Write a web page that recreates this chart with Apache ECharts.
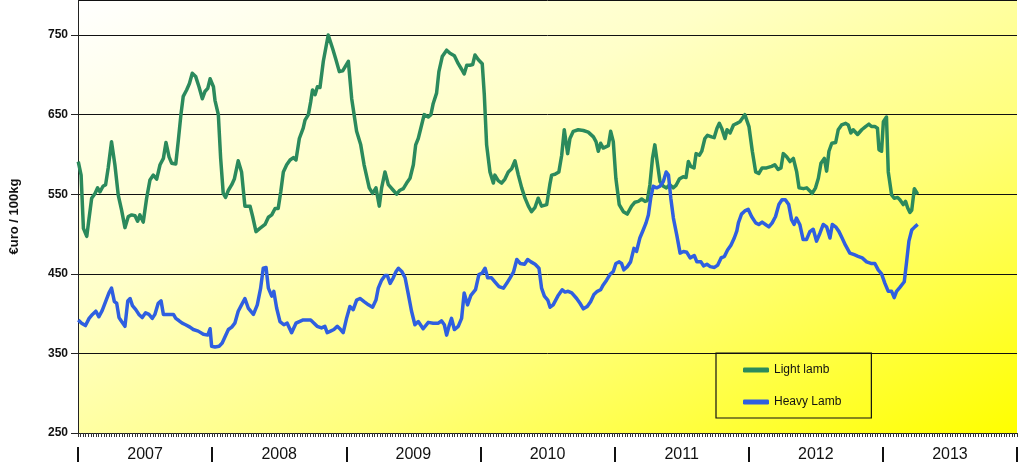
<!DOCTYPE html>
<html>
<head>
<meta charset="utf-8">
<script src="https://cdn.jsdelivr.net/npm/echarts@6/dist/echarts.min.js"></script>
<style>
html,body{margin:0;padding:0;background:#fff;}
#chart{width:1023px;height:471px;}
</style>
</head>
<body>
<div id="chart"></div>
<script>
// x positions are in weeks since start of 2007
var years = ['2007','2008','2009','2010','2011','2012','2013'];
var yTicks = [250,350,450,550,650,750];

var lightWeek = [0.1,1.2,2.1,3.4,4.3,5.3,6.6,7.6,8.5,9.7,10.7,11.7,13.0,14.3,15.6,16.9,18.2,19.5,20.8,22.1,23.1,24.0,25.3,26.6,27.9,29.2,30.5,31.8,33.1,34.1,35.3,36.3,37.9,38.9,39.9,40.8,42.1,43.2,44.3,45.6,46.9,48.2,49.2,50.3,51.2,52.5,53.1,54.4,55.3,56.3,57.2,58.3,59.6,60.6,62.1,63.4,64.7,
66.7,67.7,69.0,70.5,72.5,73.8,75.1,76.4,77.6,78.6,79.6,80.9,82.2,83.5,84.5,85.8,87.3,88.0,89.3,90.2,90.9,91.9,92.8,93.8,95.1,97.0,98.7,100.0,101.3,102.6,104.8,106.1,108.0,109.6,110.9,112.9,114.2,115.5,116.8,117.7,119.0,120.3,122.2,123.5,124.8,126.1,127.4,
128.7,130.0,130.9,131.9,133.2,134.2,135.8,136.8,137.7,139.0,139.9,141.2,142.9,144.2,145.9,147.4,148.7,149.7,150.7,151.9,153.0,153.9,155.2,156.7,157.5,158.4,159.7,161.0,161.6,162.9,164.2,165.5,166.8,168.1,169.4,170.7,172.0,173.3,174.6,175.8,177.1,178.4,179.7,181.7,182.9,183.6,184.9,186.4,187.5,188.5,189.8,190.7,
192.0,193.9,195.9,197.8,199.8,200.8,201.7,202.6,203.6,205.6,206.5,207.5,208.5,209.8,211.4,212.9,214.6,215.9,217.2,218.5,219.8,220.7,221.7,222.7,223.6,224.5,225.6,226.9,228.1,229.4,230.7,231.8,233.1,234.6,235.7,236.6,237.5,238.8,239.6,240.9,241.8,243.0,244.0,245.6,246.6,247.7,248.6,249.5,250.8,251.6,252.8,254.1,255.4,
256.6,258.5,260.1,261.4,262.7,263.9,265.2,266.9,268.9,270.1,271.4,272.5,273.4,274.7,276.0,277.3,278.6,279.5,281.2,282.5,283.7,284.6,285.9,287.0,288.0,289.3,290.2,291.1,292.2,293.7,294.7,296.0,297.6,298.6,299.6,300.5,302.2,303.8,305.3,306.6,307.6,308.9,309.9,310.5,311.5,312.2,313.4,314.1,315.4,316.4,317.7,318.6,319.9,320.8,321.6,322.5,323.2,324.2,325.5];
var lightValue = [591,574,507,497,520,545,551,558,553,560,562,583,616,587,549,530,508,522,524,523,516,524,515,545,568,574,569,587,595,615,597,589,588,618,650,673,681,689,702,698,685,670,679,683,695,685,668,650,595,551,546,555,562,569,592,578,535,
535,522,503,507,512,521,524,532,532,553,578,587,593,596,593,620,633,643,650,666,681,675,685,684,717,750,733,719,704,705,717,670,629,612,587,558,551,558,535,558,578,562,555,550,555,557,564,
570,587,612,620,637,650,647,650,664,677,704,723,731,727,724,714,707,701,712,712,713,725,719,714,675,612,578,564,574,567,564,569,578,582,592,574,558,545,535,528,533,545,535,537,562,574,575,578,599,631,601,620,
629,631,630,628,622,616,604,614,608,611,629,616,570,537,528,525,535,540,541,544,541,542,562,595,612,591,566,560,558,562,558,561,569,572,571,591,585,583,601,599,604,620,624,622,621,633,639,633,620,631,627,637,639,
641,650,635,604,578,576,583,583,585,587,581,583,601,597,591,595,578,558,557,558,554,551,558,570,589,595,579,604,614,615,631,637,639,637,627,631,625,631,635,638,635,635,633,606,604,641,647,578,549,545,546,543,537,541,533,527,530,557,550];

var heavyWeek = [0.1,1.4,2.9,4.3,5.6,6.9,8.1,9.4,10.7,12.0,13.0,14.1,15.0,15.9,16.9,18.2,19.3,20.2,21.1,22.4,23.6,24.9,26.2,27.5,28.8,29.8,31.1,32.2,33.1,34.4,35.7,37.0,37.9,39.2,40.4,41.7,43.4,44.7,46.6,48.6,50.3,51.2,51.8,53.1,54.7,55.9,57.0,58.3,59.6,60.8,62.1,63.4,64.7,
66.0,68.0,69.5,70.8,71.8,72.9,73.8,75.1,75.9,77.0,78.3,79.8,81.1,82.8,84.5,85.8,87.3,88.6,90.2,91.5,92.7,94.4,95.7,96.6,97.9,99.2,100.5,101.8,102.8,104.1,105.4,106.7,108.0,109.3,110.9,112.6,114.2,115.5,116.4,117.7,119.0,119.9,121.0,122.2,123.3,124.2,125.5,126.8,
128.0,129.3,130.6,131.9,133.8,135.8,137.7,139.7,140.9,142.0,142.9,143.8,144.8,145.9,147.4,148.7,149.7,151.0,152.3,154.1,155.4,156.7,157.8,158.8,160.3,161.6,163.2,164.9,166.2,167.5,168.8,170.1,171.4,173.1,174.3,175.6,177.2,178.7,179.7,180.8,182.1,183.0,184.2,186.0,187.7,188.8,190.0,
191.4,193.3,194.6,195.9,197.4,198.7,200.0,201.3,202.6,203.6,204.9,206.2,207.5,208.5,209.8,210.7,211.6,212.9,214.2,215.5,216.5,217.8,219.1,220.2,221.1,222.0,223.0,224.3,225.6,226.9,228.0,228.9,229.8,230.8,232.1,233.4,234.7,236.0,237.3,238.9,239.9,241.5,242.5,243.8,245.1,246.7,248.0,249.3,250.6,251.8,253.1,254.4,255.4,
256.0,257.2,258.5,259.8,261.1,262.7,263.9,265.2,266.5,267.8,269.1,270.4,271.7,272.9,274.2,275.5,276.6,277.6,278.5,279.8,281.1,282.4,283.7,285.0,286.3,287.6,288.9,290.2,291.5,292.4,293.7,295.0,296.2,297.5,299.2,300.9,302.4,304.0,305.7,307.4,308.9,310.2,311.5,312.8,314.1,315.4,316.4,317.3,318.6,320.3,321.2,322.1,323.2,324.4,325.5];
var heavyValue = [392,388,385,394,399,403,396,404,415,426,432,415,413,395,390,384,416,419,410,405,399,395,401,399,394,399,413,416,399,399,399,399,394,391,388,386,383,380,378,374,373,381,359,358,359,363,371,380,383,388,403,411,419,
407,399,411,432,457,458,432,422,428,407,390,386,388,376,388,390,392,392,392,388,384,382,384,376,378,380,384,380,376,394,409,405,417,419,415,411,408,417,432,442,448,448,438,445,453,457,453,445,
425,403,386,390,381,389,388,388,391,386,373,384,394,380,384,394,426,411,423,430,449,451,457,445,445,440,434,432,438,445,452,468,463,462,468,465,462,457,432,422,417,408,411,422,430,427,428,
426,419,413,406,409,415,424,428,430,436,442,449,453,463,465,463,455,459,465,482,478,495,505,514,524,545,560,558,560,566,578,574,545,520,499,476,478,477,470,473,465,465,460,462,459,458,461,470,472,480,486,495,504,
514,525,529,531,522,514,512,515,512,509,514,522,537,543,543,537,518,512,520,512,493,493,503,506,491,501,512,509,495,512,509,503,495,486,476,474,472,470,465,463,463,455,450,438,428,428,420,428,433,440,465,491,505,509,512];

function pairs(xs, ys){ return xs.map(function(x,i){ return [x, ys[i]]; }); }

var FONT = '"Liberation Sans", Arial, sans-serif';
var chart = echarts.init(document.getElementById('chart'), null, {renderer:'canvas'});
chart.setOption({
  animation: false,
  textStyle: {fontFamily: FONT},
  grid: {
    left: 78, right: 6, top: 0, bottom: 38,
    show: true, borderWidth: 0,
    backgroundColor: {
      type: 'linear', global: true,
      x: 78, y: 0, x2: 414, y2: 714,
      colorStops: [
        {offset: 0, color: '#ffffff'},
        {offset: 0.35, color: '#ffffc8'},
        {offset: 0.65, color: '#ffff7a'},
        {offset: 1, color: '#ffff00'}
      ]
    }
  },
  legend: {
    orient: 'vertical',
    left: 716, top: 353,
    padding: [11, 30, 10, 27],
    itemGap: 20,
    itemWidth: 26, itemHeight: 5,
    icon: 'roundRect',
    borderColor: '#111', borderWidth: 1.2,
    textStyle: {fontSize: 12, color: '#111', fontFamily: FONT},
    data: ['Light lamb', 'Heavy Lamb']
  },
  xAxis: [{
    type: 'value', min: 0, max: 364, interval: 1,
    axisLine: {show: true, lineStyle: {color: '#222', width: 1}},
    axisTick: {show: true, length: 4, lineStyle: {color: '#333', width: 1}},
    axisLabel: {show: false},
    splitLine: {show: false}
  }, {
    type: 'category', data: years, position: 'bottom', offset: 14,
    boundaryGap: true,
    axisLine: {show: false},
    axisTick: {show: true, length: 15, interval: 0, lineStyle: {color: '#111', width: 2}},
    axisLabel: {fontSize: 16, color: '#111', margin: 0, interval: 0, fontFamily: FONT},
    splitLine: {show: false}
  }],
  yAxis: {
    type: 'value', min: yTicks[0], max: 794, interval: 100,
    name: '€uro / 100kg', nameLocation: 'middle', nameGap: 57,
    nameTextStyle: {fontWeight: 'bold', fontSize: 13, color: '#111', fontFamily: FONT},
    axisLine: {show: true, lineStyle: {color: '#222', width: 1}},
    axisTick: {show: true, length: 7, lineStyle: {color: '#222'}},
    axisLabel: {fontWeight: 'bold', fontSize: 12, color: '#111', margin: 10, showMaxLabel: false, fontFamily: FONT},
    splitLine: {show: true, lineStyle: {color: '#111', width: 1}}
  },
  series: [{
    name: 'Light lamb', type: 'line', xAxisIndex: 0,
    data: pairs(lightWeek, lightValue),
    showSymbol: false, symbol: 'none',
    lineStyle: {color: '#2b8a5c', width: 3.5, join: 'round'},
    itemStyle: {color: '#2b8a5c'}
  }, {
    name: 'Heavy Lamb', type: 'line', xAxisIndex: 0,
    data: pairs(heavyWeek, heavyValue),
    showSymbol: false, symbol: 'none',
    lineStyle: {color: '#2f5fe0', width: 3.5, join: 'round'},
    itemStyle: {color: '#2f5fe0'}
  }]
});
</script>
</body>
</html>
